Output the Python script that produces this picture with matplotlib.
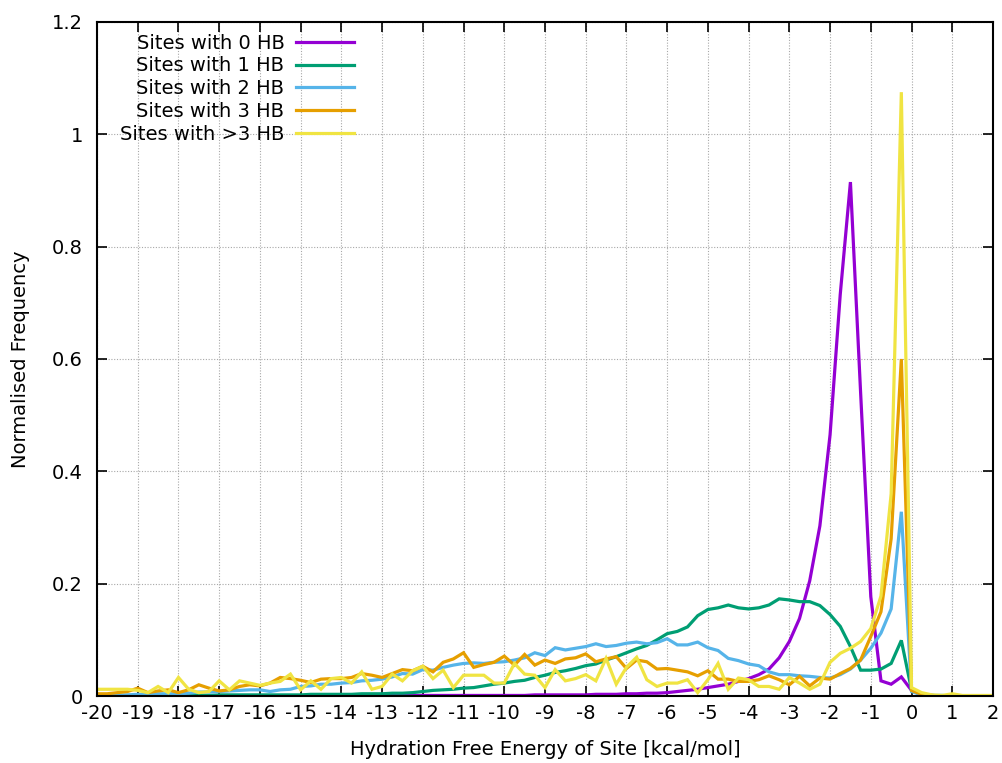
import matplotlib
matplotlib.use("Agg")
import matplotlib.pyplot as plt
import numpy as np
from matplotlib.ticker import MultipleLocator, FuncFormatter

plt.rcParams['font.family'] = ['DejaVu Sans']
plt.rcParams['axes.unicode_minus'] = False

# bin centres (kcal/mol), step 0.25 from -20 to 2
energy = np.arange(-20, 2.0001, 0.25)

hb0 = [0, 0, 0, 0,
       0, 0, 0, 0,
       0, 0, 0, 0,
       0, 0, 0, 0,
       0, 0, 0, 0,
       0, 0, 0, 0,
       0, 0, 0, 0.001,
       0.001, 0.001, 0.001, 0.001,
       0.001, 0.001, 0.001, 0.001,
       0.001, 0.001, 0.001, 0.001,
       0.001, 0.001, 0.001, 0.002,
       0.002, 0.002, 0.002, 0.002,
       0.002, 0.003, 0.003, 0.003,
       0.004, 0.004, 0.005, 0.005,
       0.006, 0.008, 0.010, 0.012,
       0.015, 0.018, 0.021, 0.026,
       0.031, 0.038, 0.048, 0.068,
       0.097, 0.138, 0.205, 0.303,
       0.465, 0.715, 0.915, 0.54,
       0.177, 0.027, 0.021, 0.034,
       0.010, 0.002, 0.001, 0.0,
       0, 0, 0, 0,
       0]

hb1 = [0.001, 0.001, 0.001, 0.001,
       0.001, 0.001, 0.001, 0.001,
       0.001, 0.001, 0.001, 0.001,
       0.002, 0.002, 0.002, 0.002,
       0.002, 0.002, 0.002, 0.002,
       0.002, 0.003, 0.003, 0.003,
       0.003, 0.003, 0.004, 0.004,
       0.004, 0.005, 0.005, 0.006,
       0.008, 0.010, 0.011, 0.012,
       0.014, 0.015, 0.018, 0.021,
       0.023, 0.026, 0.028, 0.033,
       0.037, 0.042, 0.045, 0.049,
       0.054, 0.057, 0.064, 0.070,
       0.077, 0.084, 0.090, 0.100,
       0.111, 0.115, 0.123, 0.143,
       0.154, 0.157, 0.162, 0.157,
       0.155, 0.157, 0.162, 0.173,
       0.171, 0.168, 0.168, 0.161,
       0.145, 0.124, 0.088, 0.046,
       0.046, 0.048, 0.058, 0.099,
       0.011, 0.002, 0.001, 0.001,
       0, 0, 0, 0,
       0]

hb2 = [0.001, 0.001, 0.001, 0.002,
       0.003, 0.003, 0.004, 0.004,
       0.004, 0.005, 0.007, 0.007,
       0.008, 0.009, 0.010, 0.011,
       0.011, 0.008, 0.011, 0.012,
       0.017, 0.018, 0.021, 0.021,
       0.023, 0.024, 0.027, 0.028,
       0.030, 0.034, 0.040, 0.039,
       0.047, 0.046, 0.051, 0.055,
       0.058, 0.059, 0.058, 0.060,
       0.061, 0.064, 0.068, 0.077,
       0.072, 0.086, 0.082, 0.085,
       0.088, 0.093, 0.088, 0.090,
       0.094, 0.096, 0.093, 0.095,
       0.102, 0.091, 0.091, 0.096,
       0.086, 0.081, 0.067, 0.063,
       0.057, 0.054, 0.043, 0.038,
       0.038, 0.036, 0.035, 0.033,
       0.032, 0.038, 0.048, 0.064,
       0.085, 0.112, 0.155, 0.328,
       0.008, 0.002, 0.001, 0.0,
       0, 0, 0, 0,
       0]

hb3 = [0.004, 0.004, 0.006, 0.008,
       0.014, 0.006, 0.009, 0.011,
       0.006, 0.011, 0.020, 0.014,
       0.009, 0.011, 0.017, 0.020,
       0.018, 0.023, 0.033, 0.031,
       0.028, 0.024, 0.030, 0.031,
       0.031, 0.033, 0.040, 0.037,
       0.033, 0.040, 0.047, 0.045,
       0.053, 0.043, 0.060, 0.066,
       0.077, 0.051, 0.056, 0.060,
       0.071, 0.055, 0.074, 0.055,
       0.064, 0.058, 0.066, 0.068,
       0.075, 0.061, 0.066, 0.070,
       0.049, 0.064, 0.061, 0.048,
       0.049, 0.046, 0.043, 0.036,
       0.045, 0.030, 0.030, 0.026,
       0.026, 0.029, 0.036, 0.029,
       0.020, 0.035, 0.018, 0.032,
       0.030, 0.040, 0.049, 0.064,
       0.106, 0.150, 0.280, 0.600,
       0.010, 0.003, 0.001, 0.0,
       0, 0, 0, 0,
       0]

hb4 = [0.012, 0.012, 0.012, 0.012,
       0.010, 0.006, 0.017, 0.006,
       0.033, 0.012, 0.006, 0.008,
       0.027, 0.011, 0.027, 0.023,
       0.019, 0.023, 0.026, 0.039,
       0.011, 0.027, 0.012, 0.031,
       0.033, 0.023, 0.043, 0.012,
       0.017, 0.039, 0.027, 0.045,
       0.053, 0.031, 0.046, 0.015,
       0.037, 0.037, 0.037, 0.023,
       0.023, 0.058, 0.039, 0.037,
       0.015, 0.047, 0.027, 0.031,
       0.038, 0.027, 0.067, 0.021,
       0.051, 0.069, 0.029, 0.017,
       0.023, 0.023, 0.029, 0.006,
       0.029, 0.058, 0.012, 0.032,
       0.029, 0.017, 0.017, 0.012,
       0.033, 0.023, 0.012, 0.021,
       0.060, 0.076, 0.085, 0.097,
       0.120, 0.178, 0.360, 1.075,
       0.015, 0.006, 0.002, 0.001,
       0.004, 0.001, 0.001, 0.001,
       0.001]

series = [hb0, hb1, hb2, hb3, hb4]
labels = ["Sites with 0 HB", "Sites with 1 HB", "Sites with 2 HB",
          "Sites with 3 HB", "Sites with >3 HB"]
colors = ["#9400d3", "#009e73", "#56b4e9", "#e69f00", "#f0e442"]

FS = 14

fig = plt.figure(figsize=(10.03, 7.63), dpi=100)
ax = fig.add_axes([0.0967, 0.0878, 0.8933, 0.8834])

for y, lab, c in zip(series, labels, colors):
    ax.plot(energy, y, color=c, lw=2.3, label=lab, solid_joinstyle='miter')

ax.set_xlim(-20, 2)
ax.set_ylim(0, 1.2)
ax.xaxis.set_major_locator(MultipleLocator(1))
ax.yaxis.set_major_locator(MultipleLocator(0.2))

def fmt(v, pos):
    s = "%.1f" % v
    if s.endswith(".0"):
        s = s[:-2]
    if s == "-0":
        s = "0"
    return s

ax.yaxis.set_major_formatter(FuncFormatter(fmt))
ax.xaxis.set_major_formatter(FuncFormatter(lambda v, p: "%d" % round(v)))

ax.grid(True, color="#a8a8a8", linestyle=(0, (1, 1.5)), lw=0.8)
ax.tick_params(direction='in', length=7.5, width=1.2, top=True, right=True,
               labelsize=FS, colors='black')
ax.tick_params(axis='x', pad=6)
ax.tick_params(axis='y', pad=10)
for sp in ax.spines.values():
    sp.set_linewidth(1.5)
    sp.set_zorder(5)

ax.set_xlabel("Hydration Free Energy of Site [kcal/mol]", fontsize=FS, labelpad=12)
ax.set_ylabel("Normalised Frequency", fontsize=FS, labelpad=16)

leg = ax.legend(loc='upper right', bbox_to_anchor=(0.296, 0.994), frameon=False,
                markerfirst=False, fontsize=FS, handlelength=3.0,
                handletextpad=0.6, labelspacing=0.19, borderaxespad=0.0)

fig.savefig("out.png", dpi=100)
